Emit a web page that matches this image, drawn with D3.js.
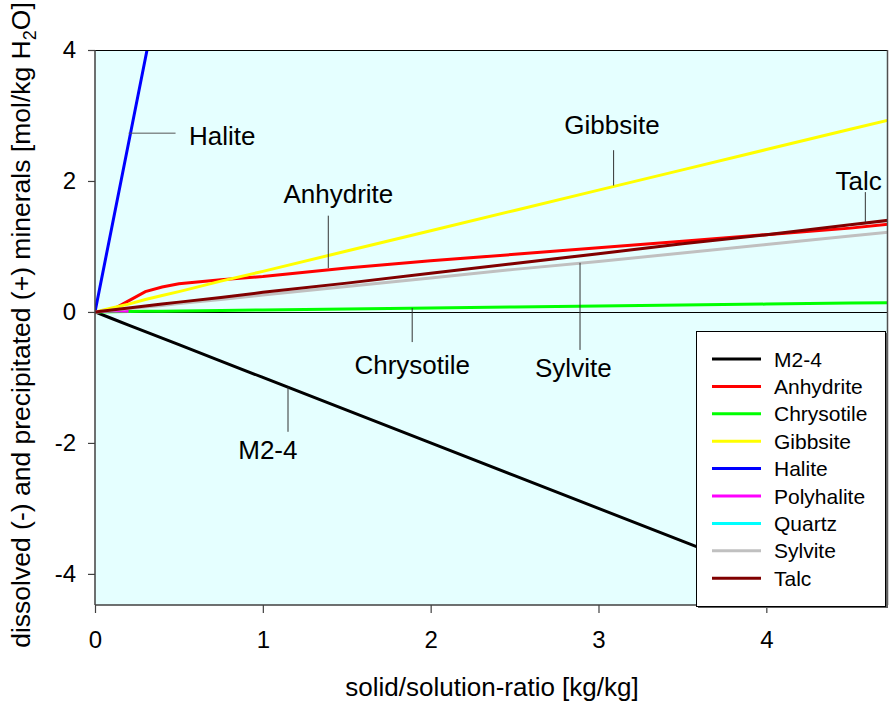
<!DOCTYPE html>
<html>
<head>
<meta charset="utf-8">
<script src="https://cdn.jsdelivr.net/npm/d3@7"></script>
<style>
  body { margin: 0; background: #fff; }
  text { font-family: "Liberation Sans", Arial, sans-serif; }
</style>
</head>
<body>
<div id="chart"></div>
<script>
// solid/solution ratio sample points [kg/kg]
var ratio = [0, 0.1, 0.2, 0.3, 0.4, 0.5, 0.75, 1, 1.5, 2, 2.5, 3, 3.5, 4, 4.5, 4.73];

// minerals dissolved (-) / precipitated (+) [mol/kg H2O]
var m24        = [0, -0.1, -0.2, -0.3, -0.4, -0.5, -0.75, -1, -1.5, -2, -2.5, -3, -3.5, -4, -4.5, -4.73];
var anhydrite  = [0, 0.03, 0.17, 0.31, 0.38, 0.43, 0.49, 0.54, 0.67, 0.78, 0.88, 0.98, 1.08, 1.18, 1.28, 1.34];
var chrysotile = [0, 0.003, 0.006, 0.009, 0.012, 0.015, 0.022, 0.03, 0.045, 0.06, 0.075, 0.09, 0.105, 0.12, 0.135, 0.14];
var gibbsite   = [0, 0.06, 0.12, 0.19, 0.25, 0.31, 0.47, 0.62, 0.93, 1.24, 1.55, 1.86, 2.17, 2.48, 2.79, 2.93];
var halite     = [0, 1.29, 2.58, 3.87, 5.16, null, null, null, null, null, null, null, null, null, null, null];
var polyhalite = [0, 0.02, 0.01, null, null, null, null, null, null, null, null, null, null, null, null, null];
var quartz     = [0, null, null, null, null, null, null, null, null, null, null, null, null, null, null, null];
var sylvite    = [0, 0.026, 0.052, 0.077, 0.1, 0.13, 0.19, 0.26, 0.39, 0.52, 0.65, 0.77, 0.9, 1.03, 1.16, 1.22];
var talc       = [0, 0.03, 0.06, 0.09, 0.12, 0.15, 0.22, 0.3, 0.44, 0.59, 0.74, 0.89, 1.04, 1.18, 1.33, 1.4];

var seriesNames  = ["M2-4", "Anhydrite", "Chrysotile", "Gibbsite", "Halite", "Polyhalite", "Quartz", "Sylvite", "Talc"];
var seriesValues = [m24, anhydrite, chrysotile, gibbsite, halite, polyhalite, quartz, sylvite, talc];
var seriesColors = ["#000000", "#ff0000", "#00ff00", "#ffff00", "#0000ff", "#ff00ff", "#00ffff", "#c0c0c0", "#800000"];

var xTicks = [0, 1, 2, 3, 4];
var yTicks = [-4, -2, 0, 2, 4];

// label annotations (data units): leader at lx from ly1 to ly2, text centred at tx, baseline ty
var labels = [
  {name: "Gibbsite",   lx: 3.09, ly1: 1.93, ly2: 2.47, tx: 3.08, ty: 2.72},
  {name: "Anhydrite",  lx: 1.39, ly1: 0.67, ly2: 1.47, tx: 1.45, ty: 1.66},
  {name: "Talc",       lx: 4.59, ly1: 1.37, ly2: 1.83, tx: 4.55, ty: 1.86},
  {name: "Chrysotile", lx: 1.89, ly1: 0.06, ly2: -0.46, tx: 1.89, ty: -0.95},
  {name: "Sylvite",    lx: 2.89, ly1: 0.75, ly2: -0.58, tx: 2.85, ty: -1.0},
  {name: "M2-4",       lx: 1.15, ly1: -1.15, ly2: -1.83, tx: 1.03, ty: -2.24}
];

var margin = {top: 50, right: 4, bottom: 97, left: 95},
    width = 892 - margin.left - margin.right,
    height = 702 - margin.top - margin.bottom;

var svg = d3.select("#chart").append("svg")
    .attr("width", 892)
    .attr("height", 702)
  .append("g")
    .attr("transform", "translate(" + margin.left + "," + margin.top + ")");

var x = d3.scaleLinear().domain([0, 4.725]).range([0, width]);
var y = d3.scaleLinear().domain([-4.475, 4]).range([height, 0]);

// plot background
svg.append("rect")
    .attr("width", width)
    .attr("height", height)
    .attr("fill", "#e5ffff");

svg.append("defs").append("clipPath")
    .attr("id", "clip")
  .append("rect")
    .attr("width", width)
    .attr("height", height);

// zero line
var y0 = Math.round(y(0)) + 0.5;
svg.append("line")
    .attr("x1", 0).attr("x2", width)
    .attr("y1", y0).attr("y2", y0)
    .attr("stroke", "#000").attr("stroke-width", 1);

// series lines
var line = d3.line()
    .defined(function(d) { return d[1] !== null; })
    .x(function(d) { return x(d[0]); })
    .y(function(d) { return y(d[1]); });

var plot = svg.append("g").attr("clip-path", "url(#clip)");

seriesValues.forEach(function(vals, i) {
  var pts = ratio.map(function(r, j) { return [r, vals[j]]; });
  plot.append("path")
      .datum(pts)
      .attr("fill", "none")
      .attr("stroke", seriesColors[i])
      .attr("stroke-width", 3)
      .attr("d", line);
});

// frame top/right
svg.append("line")
    .attr("x1", 0).attr("x2", width).attr("y1", 0.5).attr("y2", 0.5)
    .attr("stroke", "#000");
svg.append("line")
    .attr("x1", width - 0.5).attr("x2", width - 0.5).attr("y1", 0).attr("y2", height)
    .attr("stroke", "#505050").attr("stroke-width", 1.5);

// label annotations
labels.forEach(function(l) {
  svg.append("line")
      .attr("x1", x(l.lx)).attr("x2", x(l.lx))
      .attr("y1", y(l.ly1)).attr("y2", y(l.ly2))
      .attr("stroke", "#333").attr("stroke-width", 1);
  svg.append("text")
      .attr("x", x(l.tx))
      .attr("y", y(l.ty))
      .attr("text-anchor", "middle")
      .attr("font-size", 26)
      .text(l.name);
});
// Halite has a horizontal leader
svg.append("line")
    .attr("x1", x(0.2)).attr("x2", x(0.48))
    .attr("y1", y(2.73)).attr("y2", y(2.73))
    .attr("stroke", "#555").attr("stroke-width", 1);
svg.append("text")
    .attr("x", x(0.56))
    .attr("y", y(2.55))
    .attr("font-size", 26)
    .text("Halite");

// axes
var xAxis = svg.append("g")
    .attr("transform", "translate(0," + height + ")")
    .call(d3.axisBottom(x).tickValues(xTicks).tickSize(8).tickPadding(18)
      .tickFormat(function(d) { return String(d); }));
var yAxis = svg.append("g")
    .call(d3.axisLeft(y).tickValues(yTicks).tickSize(7).tickPadding(12)
      .tickFormat(function(d) { return String(d); }));

[xAxis, yAxis].forEach(function(a) {
  a.select(".domain").attr("stroke", "#404040").attr("stroke-width", 1.5);
  a.selectAll(".tick line").attr("stroke", "#404040").attr("stroke-width", 1.2);
  a.selectAll(".tick text")
      .attr("font-size", 24)
      .attr("fill", "#000")
      .style("font-family", "Liberation Sans, Arial, sans-serif");
});
xAxis.select(".domain").attr("d", "M0,0H" + width);
yAxis.select(".domain").attr("d", "M0,0V" + height);

// axis titles
svg.append("text")
    .attr("x", 492 - margin.left)
    .attr("y", height + 91)
    .attr("text-anchor", "middle")
    .attr("font-size", 26)
    .text("solid/solution-ratio [kg/kg]");

var yTitle = svg.append("text")
    .attr("transform", "translate(" + (-65) + "," + (325 - margin.top) + ") rotate(-90)")
    .attr("text-anchor", "middle")
    .attr("font-size", 26.5);
yTitle.append("tspan").text("dissolved (-) and precipitated (+) minerals [mol/kg H");
yTitle.append("tspan").attr("font-size", 18).attr("dy", 6).text("2");
yTitle.append("tspan").attr("dy", -6).text("O]");

// legend
var lg = svg.append("g").attr("transform", "translate(" + (696 - margin.left) + "," + (331 - margin.top) + ")");
lg.append("rect")
    .attr("x", 2).attr("y", 2)
    .attr("width", 190).attr("height", 275)
    .attr("fill", "#606060");
lg.append("rect")
    .attr("x", 0.5).attr("y", 0.5)
    .attr("width", 189).attr("height", 275)
    .attr("fill", "#fff")
    .attr("stroke", "#000");

var rowH = 27.4;
seriesNames.forEach(function(name, i) {
  var cy = 28 + i * rowH;
  lg.append("line")
      .attr("x1", 16).attr("x2", 65)
      .attr("y1", cy).attr("y2", cy)
      .attr("stroke", seriesColors[i])
      .attr("stroke-width", 3);
  lg.append("text")
      .attr("x", 78)
      .attr("y", cy + 7.5)
      .attr("font-size", 21)
      .text(name);
});
</script>
</body>
</html>
